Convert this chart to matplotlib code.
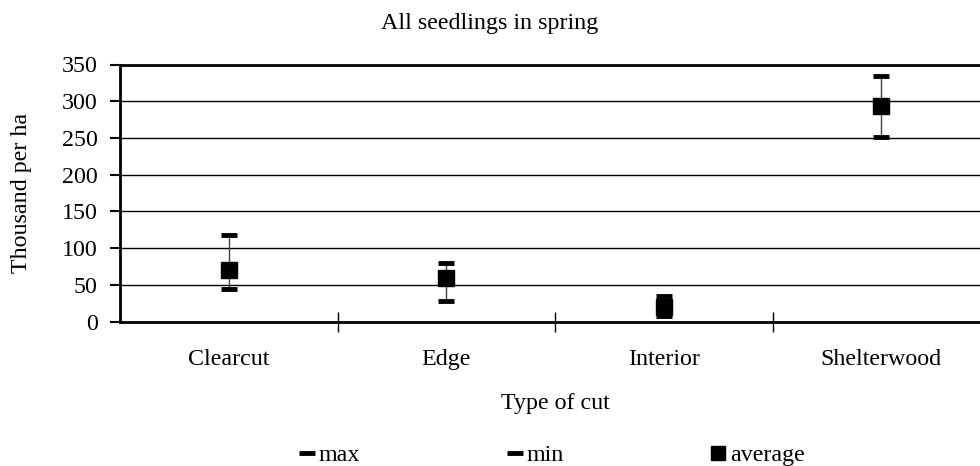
import matplotlib
matplotlib.use("Agg")
import matplotlib.pyplot as plt
from matplotlib.lines import Line2D

categories = ["Clearcut", "Edge", "Interior", "Shelterwood"]
max_vals = [118, 80, 35, 334]
min_vals = [45, 28, 8, 251]
avg_vals = [70, 60, 20, 293]
yticks = [0, 50, 100, 150, 200, 250, 300, 350]

plt.rcParams["font.family"] = ["Liberation Serif", "DejaVu Serif"]
FS = 17.3

fig = plt.figure(figsize=(9.8, 4.66), dpi=100)
W, H = 980, 466
ax = fig.add_axes([120 / W, (H - 321.7) / H, 870 / W, (321.7 - 64.5) / H])

x = list(range(len(categories)))
ax.vlines(x, min_vals, max_vals, color="#404040", lw=1.0, zorder=3)
ax.plot(x, max_vals, ls="none", marker="_", ms=12, mew=3.5, color="black", zorder=4)
ax.plot(x, min_vals, ls="none", marker="_", ms=12, mew=3.5, color="black", zorder=4)
ax.plot(x, avg_vals, ls="none", marker="s", ms=11, color="black", zorder=5)

ax.set_xlim(-0.5, len(categories) - 0.5)
ax.set_ylim(0, 350)
ax.set_yticks(yticks)
ax.set_yticklabels([str(v) for v in yticks], fontsize=FS)
ax.yaxis.grid(True, color="black", lw=1.0)
ax.set_axisbelow(True)

ax.set_xticks(x)
ax.set_xticklabels(categories, fontsize=FS)
ax.tick_params(axis="x", which="major", length=0, pad=19.5)
ax.set_xticks([i + 0.5 for i in range(len(categories) - 1)], minor=True)
ax.tick_params(axis="x", which="minor", direction="inout", length=14, width=1, color="black")
ax.tick_params(axis="y", direction="out", length=7, width=1.5, pad=9)

for s in ["left", "top", "bottom"]:
    ax.spines[s].set_linewidth(2)
    ax.spines[s].set_color("black")
ax.spines["right"].set_visible(False)

fig.text(490 / W, 1 - 23 / H, "All seedlings in spring", ha="center", va="center", fontsize=FS)
fig.text(22 / W, 1 - 193 / H, "Thousand per ha", ha="center", va="center", rotation=90, fontsize=FS)
fig.text(555 / W, 1 - 403 / H, "Type of cut", ha="center", va="center", fontsize=FS)

handles = [
    Line2D([], [], ls="none", marker="_", ms=12, mew=3.5, color="black"),
    Line2D([], [], ls="none", marker="_", ms=12, mew=3.5, color="black"),
    Line2D([], [], ls="none", marker="s", ms=10, color="black"),
]
fig.legend(handles, ["max", "min", "average"], loc="center", bbox_to_anchor=(552 / W, 1 - 455 / H),
           ncol=3, frameon=False, fontsize=FS, handlelength=0.67, handletextpad=0.15,
           columnspacing=6.1, borderpad=0, borderaxespad=0)

fig.savefig("out.png", dpi=100)
